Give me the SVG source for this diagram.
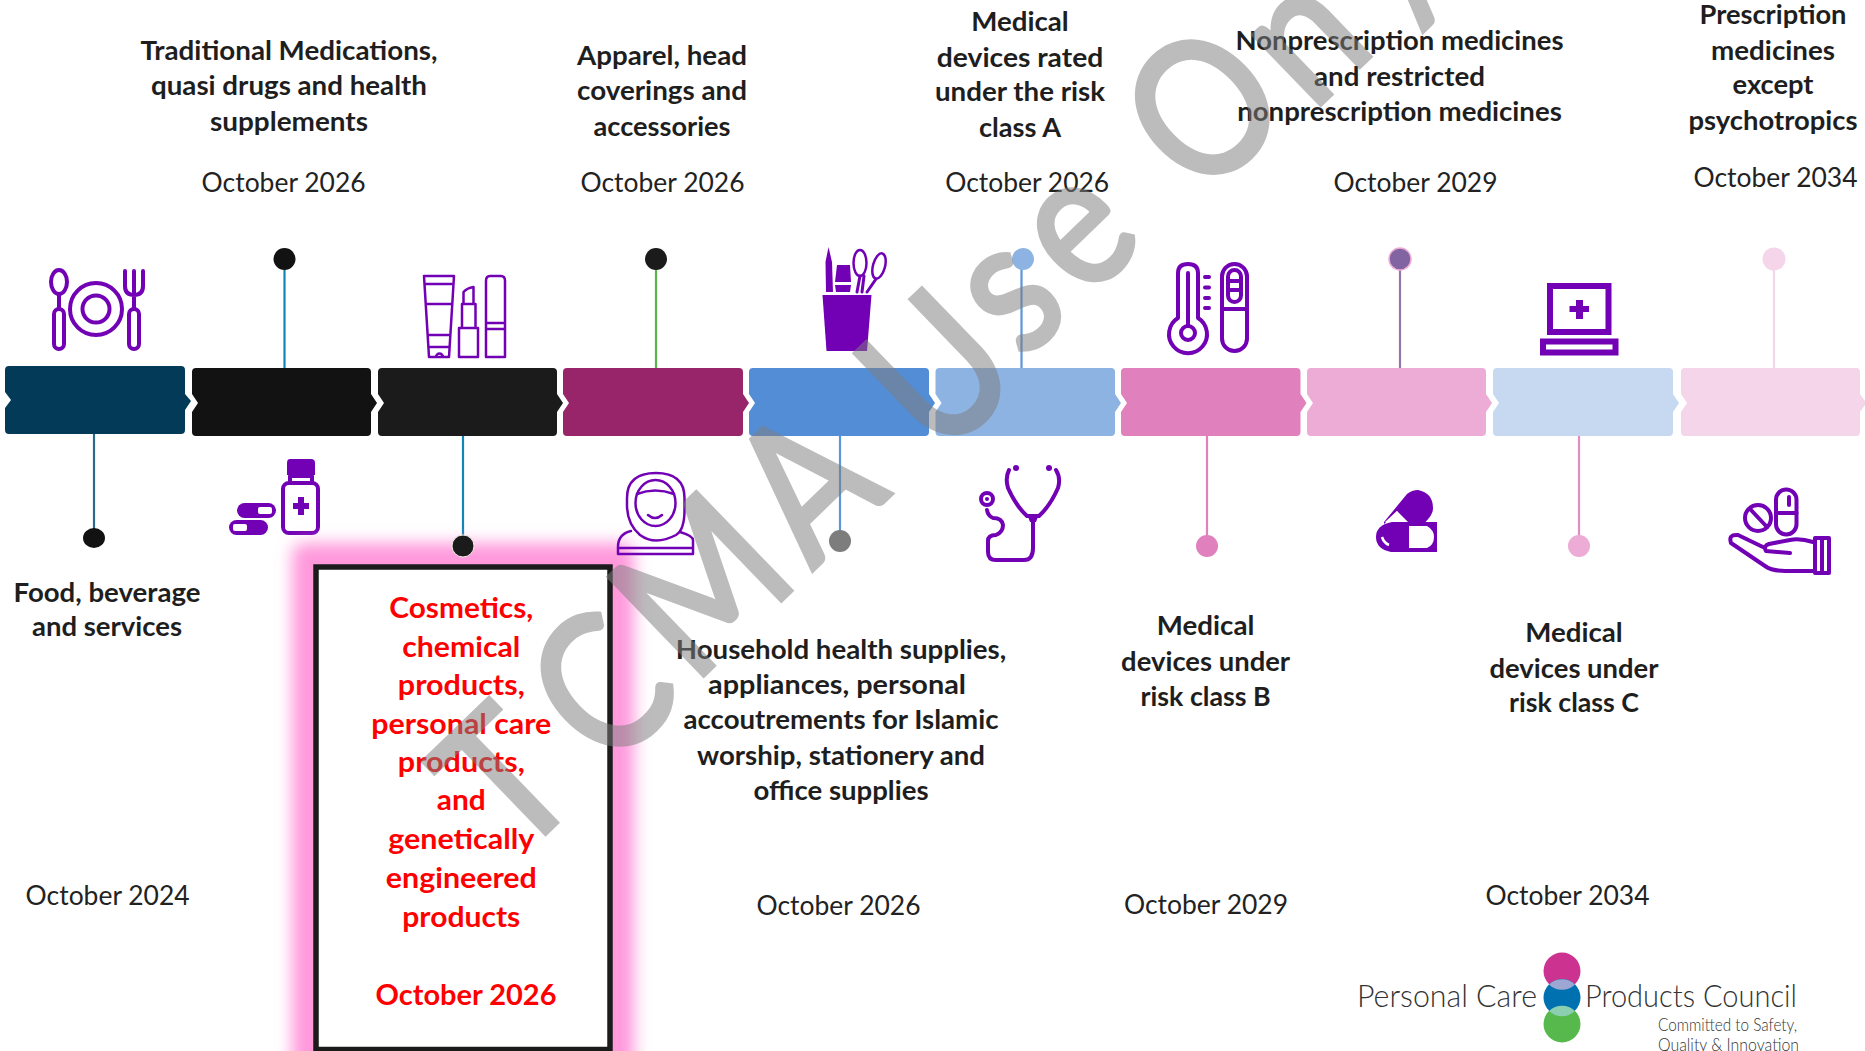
<svg xmlns="http://www.w3.org/2000/svg" width="1865" height="1051" viewBox="0 0 1865 1051">
<style>
text{font-family:Lato,"Open Sans","Liberation Sans",sans-serif;text-anchor:middle}
.b{font-weight:700;font-size:26px;fill:#1e1e1e}
.d{font-size:26px;fill:#222}
.r{font-weight:700;font-size:28px;fill:#fe0000}
.st{fill:none;stroke-width:2.2}
.dot{stroke-width:1}
.i{fill:none;stroke:#7200b4;stroke-width:4;stroke-linecap:round;stroke-linejoin:round}
.t{fill:none;stroke:#7200b4;stroke-width:2.5;stroke-linejoin:round;stroke-linecap:round}
.f{fill:#7200b4}
.w{fill:#fff}
.l{font-weight:300;fill:#333;text-anchor:start}
</style>
<defs>
<filter id="glow" x="-20%" y="-20%" width="140%" height="140%"><feGaussianBlur stdDeviation="8"/></filter>
<clipPath id="logoclip"><rect x="1320" y="930" width="478" height="121"/></clipPath>
</defs>
<rect width="1865" height="1051" fill="#fff"/>
<g id="connectors" class="st">
<path d="M94 434V530" stroke="#2b6a8a"/>
<path d="M284.500 368V265" stroke="#1186b8"/>
<path d="M463 436V536" stroke="#1186b8"/>
<path d="M656 368V265" stroke="#5cb34c"/>
<path d="M840 436V532" stroke="#5b96d8"/>
<path d="M1021.500 368V265" stroke="#5b96d8"/>
<path d="M1207 436V536" stroke="#e080bd"/>
<path d="M1400 368V265" stroke="#9575ad"/>
<path d="M1579 436V536" stroke="#e38cc4"/>
<path d="M1774 368V265" stroke="#f5d5ea"/>
</g>
<g id="n1">
<path fill="#033a58" d="M9 366H181Q185 366 185 370V394L191 401L185 410V430Q185 434 181 434H9Q5 434 5 430V408L11 400L5 392V370Q5 366 9 366Z"/>
<ellipse cx="94" cy="538" rx="11" ry="10" fill="#121212"/>
<g class="i" stroke-width="3.500">
<ellipse cx="59" cy="282" rx="8" ry="12"/><path d="M59 294V308"/><rect x="54" y="309" width="10" height="40" rx="5"/>
<circle cx="96" cy="309" r="26"/><circle cx="96" cy="309" r="13.500"/>
<path d="M125 271V286Q125 295 134 295Q143 295 143 286V271M134 271V308"/><rect x="129" y="309" width="10" height="40" rx="5"/>
</g>
<text class="b" x="107" y="601.600" textLength="187" lengthAdjust="spacingAndGlyphs">Food, beverage</text>
<text class="b" x="107" y="636" textLength="150" lengthAdjust="spacingAndGlyphs">and services</text>
<text class="d" x="107.600" y="905.300" textLength="164" lengthAdjust="spacingAndGlyphs">October 2024</text>
</g>
<g id="n2">
<path fill="#121212" d="M196 368H367Q371 368 371 372V394L377 403L371 412V432Q371 436 367 436H196Q192 436 192 432V412L198 403L192 394V372Q192 368 196 368Z"/>
<circle cx="284.500" cy="259" r="11" fill="#121212"/>
<path class="f" d="M290 459H311Q315 459 315 463V475H287V463Q287 459 290 459Z"/>
<path class="i" d="M290 476H312V482M290 476V482"/>
<rect class="i" x="283" y="483" width="35" height="50" rx="6"/>
<path class="f" d="M298 497H304V503H309V509H304V515H298V509H293V503H298Z"/>
<rect class="f" x="237" y="503" width="39" height="15" rx="7.500"/><rect class="w" x="258" y="507" width="14" height="7" rx="2"/>
<rect class="f" x="229" y="520" width="39" height="15" rx="7.500"/><rect class="w" x="233" y="524" width="14" height="7" rx="2"/>
<text class="b" x="289" y="59.500" textLength="297" lengthAdjust="spacingAndGlyphs">Traditional Medications,</text>
<text class="b" x="289" y="95" textLength="276" lengthAdjust="spacingAndGlyphs">quasi drugs and health</text>
<text class="b" x="289" y="131" textLength="158" lengthAdjust="spacingAndGlyphs">supplements</text>
<text class="d" x="283.600" y="192" textLength="164" lengthAdjust="spacingAndGlyphs">October 2026</text>
</g>
<g id="n3">
<rect x="292" y="543" width="342" height="540" rx="12" fill="#ff99dc" filter="url(#glow)"/>
<rect x="316" y="567" width="294" height="482.500" fill="#fff" stroke="#1b1b1b" stroke-width="5.500"/>
<path fill="#1b1b1b" d="M382 368H553Q557 368 557 372V394L563 403L557 412V432Q557 436 553 436H382Q378 436 378 432V412L384 403L378 394V372Q378 368 382 368Z"/>
<circle cx="463" cy="546" r="11" fill="#1b1b1b" stroke="#f5efe6"/>
<g class="t">
<path d="M424 276H454L449 357H429ZM424.500 284H453.500M426 304H452M428 335H450M428.500 347H449.500M436 357A3.500 3.500 0 0 1 443 357"/>
<path d="M459 328H478V357H459ZM462 328V304H475.500V328M463.500 304V292Q467 288 473.500 287V304"/>
<path d="M486 323V281Q486 276 490 276H501Q505 276 505 281V357H486ZM486 323H505M486 329H505"/>
</g>
<text class="r" x="461.300" y="617.600" textLength="144" lengthAdjust="spacingAndGlyphs">Cosmetics,</text>
<text class="r" x="461.300" y="656.800" textLength="118" lengthAdjust="spacingAndGlyphs">chemical</text>
<text class="r" x="461.300" y="695" textLength="127" lengthAdjust="spacingAndGlyphs">products,</text>
<text class="r" x="461.300" y="734" textLength="180" lengthAdjust="spacingAndGlyphs">personal care</text>
<text class="r" x="461.300" y="772" textLength="127" lengthAdjust="spacingAndGlyphs">products,</text>
<text class="r" x="461.300" y="810" textLength="49" lengthAdjust="spacingAndGlyphs">and</text>
<text class="r" x="461.300" y="849" textLength="146" lengthAdjust="spacingAndGlyphs">genetically</text>
<text class="r" x="461.300" y="887.500" textLength="151" lengthAdjust="spacingAndGlyphs">engineered</text>
<text class="r" x="461.300" y="926.700" textLength="118" lengthAdjust="spacingAndGlyphs">products</text>
<text class="r" x="466" y="1005" textLength="181" lengthAdjust="spacingAndGlyphs">October 2026</text>
</g>
<g id="n4">
<path fill="#98246a" d="M567 368H739Q743 368 743 372V394L749 403L743 412V432Q743 436 739 436H567Q563 436 563 432V412L569 403L563 394V372Q563 368 567 368Z"/>
<circle cx="656" cy="259" r="11" fill="#1b1b1b"/>
<g class="t">
<path d="M640 535Q627 524 627 505V498Q627 473 656 473Q684.500 473 684.500 498V510Q684.500 530 676 535Q655 546 640 535Z"/>
<ellipse cx="655.500" cy="503" rx="20" ry="23"/>
<path d="M637 494Q655 487 674 494M648 515Q655 521 662 515"/>
<path d="M618 554V547Q618 534 631 531M618 554H693V540Q693 536 680 532M620 548H691"/>
</g>
<text class="b" x="662" y="65.400" textLength="170" lengthAdjust="spacingAndGlyphs">Apparel, head</text>
<text class="b" x="662" y="99.900" textLength="170" lengthAdjust="spacingAndGlyphs">coverings and</text>
<text class="b" x="662" y="135.500" textLength="137" lengthAdjust="spacingAndGlyphs">accessories</text>
<text class="d" x="662.500" y="192" textLength="164" lengthAdjust="spacingAndGlyphs">October 2026</text>
</g>
<g id="n5">
<path fill="#538dd5" d="M753 368H925Q929 368 929 372V394L935 403L929 412V432Q929 436 925 436H753Q749 436 749 432V412L755 403L749 394V372Q749 368 753 368Z"/>
<circle cx="840" cy="541" r="11" fill="#7d7d7d"/>
<path class="f" d="M822.500 295H871.500L867 351H826.500Z"/>
<path class="f" d="M828.500 247L832 262L833 292H826L825.500 262Z"/>
<path class="f" d="M837 265H850L851 282H835ZM835 285H851L850 292H836Z"/>
<g class="t" stroke-width="3">
<ellipse cx="860" cy="263" rx="6.500" ry="13"/><ellipse cx="879" cy="266" rx="6" ry="13" transform="rotate(15 879 266)"/>
<path d="M860 276L857 292M864 276L862 292M876 279L867 292" stroke-width="3"/>
</g>
<text class="b" x="841" y="658.700" textLength="330.500" lengthAdjust="spacingAndGlyphs">Household health supplies,</text>
<text class="b" x="837" y="694.400" textLength="258" lengthAdjust="spacingAndGlyphs">appliances, personal</text>
<text class="b" x="841" y="728.800" textLength="315" lengthAdjust="spacingAndGlyphs">accoutrements for Islamic</text>
<text class="b" x="841" y="764.500" textLength="288" lengthAdjust="spacingAndGlyphs">worship, stationery and</text>
<text class="b" x="841" y="800.200" textLength="175" lengthAdjust="spacingAndGlyphs">office supplies</text>
<text class="d" x="838.500" y="915" textLength="164" lengthAdjust="spacingAndGlyphs">October 2026</text>
</g>
<g id="n6">
<path fill="#8db3e2" d="M939.500 368H1111Q1115 368 1115 372V394L1121 403L1115 412V432Q1115 436 1111 436H939.500Q935.500 436 935.500 432V412L941.500 403L935.500 394V372Q935.500 368 939.500 368Z"/>
<circle cx="1023" cy="259" r="11" fill="#8db3e2"/>
<circle class="f" cx="1016" cy="468" r="3"/><circle class="f" cx="1049" cy="468" r="3"/>
<g class="i" stroke-width="3">
<path d="M1009 470Q1005 478 1008 488Q1016 506 1027 516L1039 516Q1050 506 1058 488Q1061 478 1056 470"/>
<path d="M1033 518V548Q1033 560 1024 560H996Q988 560 988 552V541Q988 535 996 535Q1003 532 1003 525Q1002 518 993 518Q988 516 987 510"/>
<circle cx="987" cy="499" r="6"/>
</g>
<path class="f" d="M1027 514H1039L1036 522H1030Z"/><circle class="f" cx="987" cy="499" r="2"/>
<text class="b" x="1020" y="31" textLength="97.500" lengthAdjust="spacingAndGlyphs">Medical</text>
<text class="b" x="1020" y="66.500" textLength="166.500" lengthAdjust="spacingAndGlyphs">devices rated</text>
<text class="b" x="1020" y="101" textLength="170" lengthAdjust="spacingAndGlyphs">under the risk</text>
<text class="b" x="1020" y="136.700" textLength="82" lengthAdjust="spacingAndGlyphs">class A</text>
<text class="d" x="1027.200" y="192" textLength="164" lengthAdjust="spacingAndGlyphs">October 2026</text>
</g>
<g id="n7">
<path fill="#e080bd" d="M1125 368H1296.500Q1300.500 368 1300.500 372V394L1306.500 403L1300.500 412V432Q1300.500 436 1296.500 436H1125Q1121 436 1121 432V412L1127 403L1121 394V372Q1121 368 1125 368Z"/>
<circle cx="1207" cy="546" r="11" fill="#e080bd"/>
<g class="i">
<path d="M1178 318V273Q1178 264 1188 264Q1198 264 1198 273V318A19 19 0 1 1 1178 318Z"/>
<circle cx="1188" cy="333" r="7"/><path d="M1188 326V273"/>
<path d="M1205 277H1209M1205 287.500H1209M1205 298H1209M1205 308H1209"/>
<rect x="1222" y="264" width="25" height="87" rx="12.500"/>
<rect x="1228" y="270" width="13" height="32" rx="6.500"/>
<path d="M1222 309H1247M1229 281H1240M1229 290H1240"/>
</g>
<text class="b" x="1205.600" y="635" textLength="97.500" lengthAdjust="spacingAndGlyphs">Medical</text>
<text class="b" x="1205.600" y="670.600" textLength="169" lengthAdjust="spacingAndGlyphs">devices under</text>
<text class="b" x="1205.600" y="706.300" textLength="130" lengthAdjust="spacingAndGlyphs">risk class B</text>
<text class="d" x="1206" y="913.600" textLength="164" lengthAdjust="spacingAndGlyphs">October 2029</text>
</g>
<g id="n8">
<path fill="#ecacd6" d="M1311 368H1482Q1486 368 1486 372V394L1492 403L1486 412V432Q1486 436 1482 436H1311Q1307 436 1307 432V412L1313 403L1307 394V372Q1307 368 1311 368Z"/>
<circle cx="1400" cy="259" r="11" fill="#8264a2" stroke="#ecacd6" stroke-width="1.500"/>
<path class="f" d="M1407 494Q1412 490 1418 490Q1433 493 1433 508Q1433 513 1429 518L1416 533H1409L1397 511L1384 524V522Z"/>
<path class="f" d="M1392 522H1437V552H1391Q1376 549 1376 537Q1376 525 1392 522Z"/>
<path class="w" d="M1409 526H1427Q1434 530 1434 537Q1434 545 1427 548H1409Z"/>
<path class="w" d="M1397 511L1408 522H1385Z"/>
<path d="M1382 537Q1384 543 1389 545" stroke="#fff" stroke-width="2.500" fill="none"/>
<text class="b" x="1399.500" y="50" textLength="328" lengthAdjust="spacingAndGlyphs">Nonprescription medicines</text>
<text class="b" x="1399.500" y="85.600" textLength="171" lengthAdjust="spacingAndGlyphs">and restricted</text>
<text class="b" x="1399.500" y="121.300" textLength="324.600" lengthAdjust="spacingAndGlyphs">nonprescription medicines</text>
<text class="d" x="1415.500" y="192" textLength="164" lengthAdjust="spacingAndGlyphs">October 2029</text>
</g>
<g id="n9">
<path fill="#c6d9f1" d="M1497 368H1669Q1673 368 1673 372V394L1679 403L1673 412V432Q1673 436 1669 436H1497Q1493 436 1493 432V412L1499 403L1493 394V372Q1493 368 1497 368Z"/>
<circle cx="1579" cy="546" r="11" fill="#ecacd6"/>
<rect x="1550" y="286" width="58.500" height="46" fill="none" stroke="#7200b4" stroke-width="6"/>
<path class="f" d="M1576 300H1583V306H1589V312H1583V319H1576V312H1569.500V306H1576Z"/>
<rect x="1543" y="341.500" width="72.500" height="11" fill="none" stroke="#7200b4" stroke-width="6"/>
<text class="b" x="1574" y="642" textLength="97.500" lengthAdjust="spacingAndGlyphs">Medical</text>
<text class="b" x="1574" y="677.700" textLength="169" lengthAdjust="spacingAndGlyphs">devices under</text>
<text class="b" x="1574" y="712" textLength="130" lengthAdjust="spacingAndGlyphs">risk class C</text>
<text class="d" x="1567.500" y="905.300" textLength="164" lengthAdjust="spacingAndGlyphs">October 2034</text>
</g>
<g id="n10">
<path fill="#f5d5ea" d="M1685 368H1856Q1860 368 1860 372V394L1865 401V405L1860 412V432Q1860 436 1856 436H1685Q1681 436 1681 432V412L1687 403L1681 394V372Q1681 368 1685 368Z"/>
<circle cx="1774" cy="259" r="11.500" fill="#f5d5ea"/>
<g class="i" stroke-width="3.500">
<rect x="1776" y="489.500" width="20.500" height="45" rx="10.200"/><path d="M1776 513H1796.500M1789 497V505"/>
<circle cx="1758" cy="518" r="13"/><path d="M1750 509L1767 527"/>
<path d="M1813 542Q1800 538 1790 540L1769 544Q1763 546 1766 551L1790 553M1765 548L1738 535Q1728 534 1731 543L1765 566Q1772 571 1785 571H1813"/>
<rect x="1815" y="538" width="14" height="35"/>
<path d="M1822 538V573"/>
</g>
<text class="b" x="1773" y="23.800" textLength="147" lengthAdjust="spacingAndGlyphs">Prescription</text>
<text class="b" x="1773" y="59.500" textLength="124" lengthAdjust="spacingAndGlyphs">medicines</text>
<text class="b" x="1773" y="94" textLength="81" lengthAdjust="spacingAndGlyphs">except</text>
<text class="b" x="1773" y="129.600" textLength="169" lengthAdjust="spacingAndGlyphs">psychotropics</text>
<text class="d" x="1775.500" y="187" textLength="164" lengthAdjust="spacingAndGlyphs">October 2034</text>
</g>
<g id="logo">
<circle cx="1562" cy="971" r="18.500" fill="#cc3391"/>
<circle cx="1562" cy="1024" r="18.500" fill="#57b84b"/>
<circle cx="1562" cy="997.500" r="18.500" fill="#0071b0"/>
<path d="M1549 984.500A18.500 18.500 0 0 1 1575 984.500A18.500 18.500 0 0 1 1549 984.500Z" fill="#9da7d4"/>
<path d="M1549 1011A18.500 18.500 0 0 0 1575 1011A18.500 18.500 0 0 0 1549 1011Z" fill="#8ccfb0"/>
<g clip-path="url(#logoclip)">
<text class="l" x="1357" y="1007" font-size="31" textLength="180" lengthAdjust="spacingAndGlyphs">Personal Care</text>
<text class="l" x="1585" y="1007" font-size="31" textLength="212" lengthAdjust="spacingAndGlyphs">Products Council</text>
<text class="l" x="1658" y="1031" font-size="17" textLength="139" lengthAdjust="spacingAndGlyphs">Committed to Safety,</text>
<text class="l" x="1658" y="1050.500" font-size="17" textLength="141" lengthAdjust="spacingAndGlyphs">Quality &amp; Innovation</text>
</g>
</g>
<text id="watermark" transform="translate(551 828) rotate(-44) scale(.86 1)" x="0 156 322 491 600 692 814 923 1020 1127 1268 1370 1398" y="0 0 -4 -4 0 6 -8 -8 0 2 14 -40 0" opacity=".52" style="font-size:190px;fill:#7f7f7f;stroke:#7f7f7f;stroke-width:5px">TCMA Use Only</text>
</svg>
